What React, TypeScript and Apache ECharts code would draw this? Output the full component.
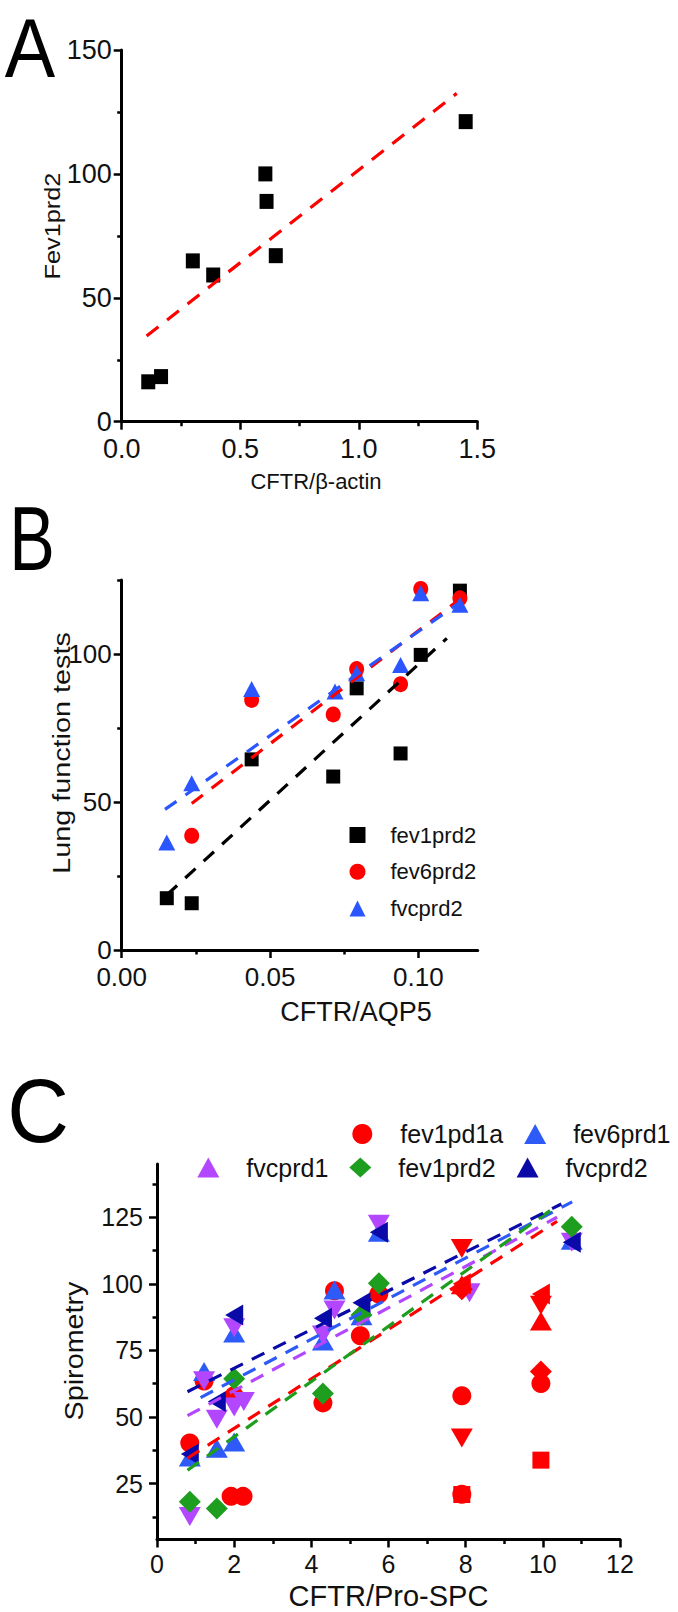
import React, { useEffect, useRef } from "react";
import * as echarts from "echarts";

// ---------------- Panel A : Fev1prd2 vs CFTR/β-actin ----------------
const aCftr = [0.112, 0.166, 0.3, 0.386, 0.606, 0.611, 0.65, 1.451];
const aFev1prd2 = [16.1, 18.2, 64.9, 59.2, 100, 88.9, 67, 121.1];
const aFitX = [0.105, 1.413];
const aFitY = [34.6, 132.5];
const aXTicks = [0, 0.5, 1, 1.5];
const aXMinor = [0.25, 0.75, 1.25];
const aYTicks = [0, 50, 100, 150];
const aYMinor = [25, 75, 125];

// ---------------- Panel B : Lung function tests vs CFTR/AQP5 ----------------
const bFev1X = [0.0152, 0.0236, 0.0438, 0.0713, 0.0792, 0.094, 0.1008, 0.114];
const bFev1Y = [17.5, 15.8, 64.4, 58.6, 88.4, 66.4, 99.7, 121.4];
const bFev6X = [0.0236, 0.0438, 0.0713, 0.0792, 0.094, 0.1008, 0.114];
const bFev6Y = [38.6, 84.5, 79.6, 94.9, 89.8, 122, 118.8];
const bFvcX = [0.0152, 0.0236, 0.0438, 0.0719, 0.0792, 0.094, 0.1008, 0.114];
const bFvcY = [36.3, 56.3, 88.2, 87.3, 93.5, 96.3, 120.5, 116.6];
const bFev1FitX = [0.0152, 0.1096];
const bFev1FitY = [18.6, 105.3];
const bFev6FitX = [0.0236, 0.1129];
const bFev6FitY = [49.5, 117.7];
const bFvcFitX = [0.0146, 0.1135];
const bFvcFitY = [47.5, 117.1];
const bXTicks = [0, 0.05, 0.1];
const bXMinor = [0.025, 0.075];
const bYTicks = [0, 50, 100];
const bYMinor = [25, 75, 125];

// ---------------- Panel C : Spirometry vs CFTR/Pro-SPC ----------------
const cFev1pd1aX = [0.85, 1.22, 1.92, 2.0, 2.23, 4.3, 4.6, 5.27, 5.75];
const cFev1pd1aY = [40.2, 63.5, 20.2, 58, 20.2, 55.3, 97.4, 80.5, 96.2];
const cFev1pd1aMaskX = [7.9, 7.9, 9.95];
const cFev1pd1aMaskY = [58, 21, 62.6];
const cFev6prd1X = [0.85, 1.22, 1.55, 2.0, 2.0, 4.3, 4.6, 5.3, 5.75, 10.75];
const cFev6prd1Y = [35, 67.1, 38.3, 81.5, 40.6, 78.5, 97.7, 88, 119.4, 116.4];
const cFev6prd1MaskX = [7.9, 9.95];
const cFev6prd1MaskY = [99.7, 86];
const cFvcprd1X = [0.85, 1.22, 1.55, 2.0, 2.0, 2.25, 4.3, 4.6, 5.75, 8.1, 10.75];
const cFvcprd1Y = [12.6, 63.6, 49.2, 83.5, 53.8, 55.8, 80.8, 90.2, 122.4, 96.7, 115.6];
const cFvcprd1MaskX = [7.9, 7.9, 9.95];
const cFvcprd1MaskY = [113.3, 42.1, 92];
const cFev1prd2X = [0.85, 1.55, 2.0, 4.3, 5.3, 5.75, 10.75];
const cFev1prd2Y = [18.2, 15.6, 64.4, 58.8, 88.3, 100.2, 121.4];
const cFev1prd2MaskX = [7.9, 9.95];
const cFev1prd2MaskY = [98, 67.1];
const cFvcprd2X = [0.85, 1.55, 2.0, 4.3, 5.3, 5.75, 10.75];
const cFvcprd2Y = [36.1, 55.8, 88.3, 87.1, 92.9, 119.4, 115.6];
const cFvcprd2MaskX = [7.9, 9.95];
const cFvcprd2MaskY = [100, 96.2];
const cMaskSquareX = [7.9, 9.95];
const cMaskSquareY = [20.9, 33.8];
const cFev1pd1aFitX = [0.79, 10.37];
const cFev1pd1aFitY = [34.5, 123.5];
const cFev6prd1FitX = [1.13, 10.76];
const cFev6prd1FitY = [57.3, 130.8];
const cFvcprd1FitX = [0.79, 10.37];
const cFvcprd1FitY = [50.5, 125];
const cFev1prd2FitX = [0.79, 10.37];
const cFev1prd2FitY = [30, 129.4];
const cFvcprd2FitX = [0.79, 10.48];
const cFvcprd2FitY = [59.5, 130];
const cXTicks = [0, 2, 4, 6, 8, 10, 12];
const cXMinor = [1, 3, 5, 7, 9, 11];
const cYTicks = [25, 50, 75, 100, 125];
const cYMinor = [12.5, 37.5, 62.5, 87.5, 112.5, 137.5];

const FONT = "'Liberation Sans', Arial, Helvetica, sans-serif";
const NARROW = "'Liberation Sans Narrow', 'Arial Narrow', 'Liberation Sans', sans-serif";
const BLACK = "#000000";
const RED = "#FF0000";
const BBLUE = "#2B55FF";
const PURPLE = "#B347FF";
const GREEN = "#1E9E1E";
const CBLUE = "#2E5BF8";
const NAVY = "#0A0AA8";
const TXT = "#111111";

const zip = (xs: number[], ys: number[]) => xs.map((x, i) => [x, ys[i]]);
const maskedItems = (xs: number[], ys: number[]) =>
  xs.map((x, i) => ({ value: [x, ys[i]], itemStyle: { color: RED, opacity: 1 } }));

function mainAxis(p: any) {
  return {
    type: "value",
    gridIndex: p.grid,
    position: p.pos,
    min: p.min,
    max: p.max,
    axisLine: { show: true, onZero: false, lineStyle: { color: BLACK, width: 3 } },
    axisTick: { show: true, inside: false, length: 8, lineStyle: { color: BLACK, width: 2.5 }, customValues: p.ticks },
    axisLabel: {
      show: true,
      customValues: p.ticks,
      formatter: p.fmt,
      fontSize: p.fs,
      fontFamily: p.ff,
      color: TXT,
      margin: p.margin,
    },
    splitLine: { show: false },
  };
}

function minorAxis(p: any) {
  return {
    type: "value",
    gridIndex: p.grid,
    position: p.pos,
    min: p.min,
    max: p.max,
    axisLine: { show: false },
    axisLabel: { show: false },
    splitLine: { show: false },
    axisTick: { show: true, inside: false, length: 4.5, lineStyle: { color: BLACK, width: 2.5 }, customValues: p.ticks },
  };
}

function fitLine(name: string, xi: number, yi: number, xs: number[], ys: number[], color: string, dash: number[]) {
  return {
    name,
    type: "line",
    xAxisIndex: xi,
    yAxisIndex: yi,
    data: zip(xs, ys),
    symbol: "none",
    z: 4,
    lineStyle: { color, width: 3.2, type: dash },
    silent: true,
  };
}

function scatter(name: string, xi: number, yi: number, data: any[], symbol: string, size: any, color: string, rotate = 0) {
  return {
    name,
    type: "scatter",
    xAxisIndex: xi,
    yAxisIndex: yi,
    data,
    symbol,
    symbolSize: size,
    symbolRotate: rotate,
    itemStyle: { color, opacity: 1 },
  };
}

function label(text: string, x: number, y: number, fontSize: number, extra: any = {}) {
  return {
    type: "text",
    x,
    y,
    ...extra,
    style: { text, fontSize, fontFamily: FONT, fill: extra.fill || TXT, align: "center", verticalAlign: "middle" },
  };
}

function buildOption() {
  const strip = (n: string) => n.split(":")[1];
  const VERT = Math.PI / 2;
  return {
    animation: false,
    backgroundColor: "#ffffff",
    grid: [
      { left: 121.7, top: 50, width: 355.6, height: 371.7 },
      { left: 121.7, top: 580, width: 356, height: 370 },
      { left: 157, top: 1164, width: 463, height: 375.5 },
    ],
    xAxis: [
      mainAxis({ grid: 0, pos: "bottom", min: 0, max: 1.5, ticks: aXTicks, fmt: (v: number) => v.toFixed(1), fs: 27, ff: NARROW, margin: 14 }),
      minorAxis({ grid: 0, pos: "bottom", min: 0, max: 1.5, ticks: aXMinor }),
      mainAxis({ grid: 1, pos: "bottom", min: 0, max: 0.12, ticks: bXTicks, fmt: (v: number) => v.toFixed(2), fs: 26, ff: NARROW, margin: 14 }),
      minorAxis({ grid: 1, pos: "bottom", min: 0, max: 0.12, ticks: bXMinor }),
      mainAxis({ grid: 2, pos: "bottom", min: 0, max: 12, ticks: cXTicks, fmt: (v: number) => String(v), fs: 25, ff: FONT, margin: 12 }),
      minorAxis({ grid: 2, pos: "bottom", min: 0, max: 12, ticks: cXMinor }),
    ],
    yAxis: [
      mainAxis({ grid: 0, pos: "left", min: 0, max: 150, ticks: aYTicks, fmt: (v: number) => String(v), fs: 27, ff: NARROW, margin: 10 }),
      minorAxis({ grid: 0, pos: "left", min: 0, max: 150, ticks: aYMinor }),
      mainAxis({ grid: 1, pos: "left", min: 0, max: 125, ticks: bYTicks, fmt: (v: number) => String(v), fs: 26, ff: NARROW, margin: 10 }),
      minorAxis({ grid: 1, pos: "left", min: 0, max: 125, ticks: bYMinor }),
      mainAxis({ grid: 2, pos: "left", min: 4, max: 145, ticks: cYTicks, fmt: (v: number) => String(v), fs: 25, ff: FONT, margin: 14 }),
      minorAxis({ grid: 2, pos: "left", min: 4, max: 145, ticks: cYMinor }),
    ],
    legend: [
      {
        data: ["B:fev1prd2", "B:fev6prd2", "B:fvcprd2"],
        formatter: strip,
        orient: "vertical",
        left: 349.5,
        top: 824,
        padding: 0,
        itemWidth: 16,
        itemHeight: 16,
        itemGap: 14.7,
        selectedMode: false,
        textStyle: { fontSize: 22, fontFamily: FONT, color: TXT, padding: [0, 0, 0, 20] },
      },
      {
        data: ["C:fev1pd1a", "C:fev6prd1"],
        formatter: strip,
        orient: "horizontal",
        left: 352.3,
        top: 1121.5,
        padding: 0,
        itemWidth: 22,
        itemHeight: 20,
        itemGap: 21,
        selectedMode: false,
        textStyle: { fontSize: 25, fontFamily: FONT, color: TXT, padding: [0, 0, 0, 22] },
      },
      {
        data: ["C:fvcprd1", "C:fev1prd2", "C:fvcprd2"],
        formatter: strip,
        orient: "horizontal",
        left: 197.3,
        top: 1155,
        padding: 0,
        itemWidth: 22,
        itemHeight: 20,
        itemGap: 21,
        selectedMode: false,
        textStyle: { fontSize: 25, fontFamily: FONT, color: TXT, padding: [0, 0, 0, 22] },
      },
    ],
    graphic: [
      // panel letters
      label("A", 30, 48, 84, { scaleX: 0.9, fill: BLACK }),
      label("B", 32, 539, 90, { scaleX: 0.76, fill: BLACK }),
      label("C", 38, 1111, 90, { scaleX: 0.95, fill: BLACK }),
      // axis titles
      label("CFTR/β-actin", 316, 481, 22),
      label("Fev1prd2", 53, 226, 22, { rotation: VERT, scaleX: 1.15 }),
      label("CFTR/AQP5", 356, 1012, 27),
      label("Lung function tests", 62, 753, 24, { rotation: VERT, scaleX: 1.2 }),
      label("CFTR/Pro-SPC", 388.5, 1596, 29),
      label("Spirometry", 75, 1351, 25, { rotation: VERT, scaleX: 1.15 }),
    ],
    series: [
      // Panel A
      scatter("A:fev1prd2", 0, 0, zip(aCftr, aFev1prd2), "rect", [14, 15], BLACK),
      fitLine("A:fit", 0, 0, aFitX, aFitY, RED, [15, 11]),
      // Panel B
      scatter("B:fev1prd2", 2, 2, zip(bFev1X, bFev1Y), "rect", 14, BLACK),
      scatter("B:fev6prd2", 2, 2, zip(bFev6X, bFev6Y), "circle", [15, 16], RED),
      scatter("B:fvcprd2", 2, 2, zip(bFvcX, bFvcY), "triangle", [17, 16], BBLUE),
      fitLine("B:fit1", 2, 2, bFev1FitX, bFev1FitY, BLACK, [14, 11]),
      fitLine("B:fit6", 2, 2, bFev6FitX, bFev6FitY, RED, [14, 11]),
      fitLine("B:fitvc", 2, 2, bFvcFitX, bFvcFitY, BBLUE, [14, 11]),
      // Panel C
      scatter("C:masked", 4, 4, maskedItems(cMaskSquareX, cMaskSquareY), "rect", 17, RED),
      scatter("C:fev1pd1a", 4, 4, [...zip(cFev1pd1aX, cFev1pd1aY), ...maskedItems(cFev1pd1aMaskX, cFev1pd1aMaskY)], "circle", 19, RED),
      scatter("C:fev6prd1", 4, 4, [...zip(cFev6prd1X, cFev6prd1Y), ...maskedItems(cFev6prd1MaskX, cFev6prd1MaskY)], "triangle", [22, 19], CBLUE),
      scatter("C:fvcprd1", 4, 4, [...zip(cFvcprd1X, cFvcprd1Y), ...maskedItems(cFvcprd1MaskX, cFvcprd1MaskY)], "triangle", [22, 19], PURPLE, 180),
      scatter("C:fev1prd2", 4, 4, [...zip(cFev1prd2X, cFev1prd2Y), ...maskedItems(cFev1prd2MaskX, cFev1prd2MaskY)], "diamond", [22, 22], GREEN),
      scatter("C:fvcprd2", 4, 4, [...zip(cFvcprd2X, cFvcprd2Y), ...maskedItems(cFvcprd2MaskX, cFvcprd2MaskY)], "triangle", [21, 18], NAVY, 90),
      fitLine("C:fit1a", 4, 4, cFev1pd1aFitX, cFev1pd1aFitY, RED, [14, 10]),
      fitLine("C:fit6", 4, 4, cFev6prd1FitX, cFev6prd1FitY, CBLUE, [14, 10]),
      fitLine("C:fitvc1", 4, 4, cFvcprd1FitX, cFvcprd1FitY, PURPLE, [14, 10]),
      fitLine("C:fit12", 4, 4, cFev1prd2FitX, cFev1prd2FitY, GREEN, [14, 10]),
      fitLine("C:fitvc2", 4, 4, cFvcprd2FitX, cFvcprd2FitY, NAVY, [14, 10]),
    ],
  };
}

export default function App() {
  const ref = useRef<HTMLDivElement>(null);
  useEffect(() => {
    const chart = echarts.init(ref.current as HTMLDivElement, null, { renderer: "svg" });
    chart.setOption(buildOption() as any);
    return () => chart.dispose();
  }, []);
  return (
    <div
      ref={ref}
      style={{ position: "absolute", left: 0, top: 0, width: 678, height: 1612, background: "#ffffff" }}
    />
  );
}
